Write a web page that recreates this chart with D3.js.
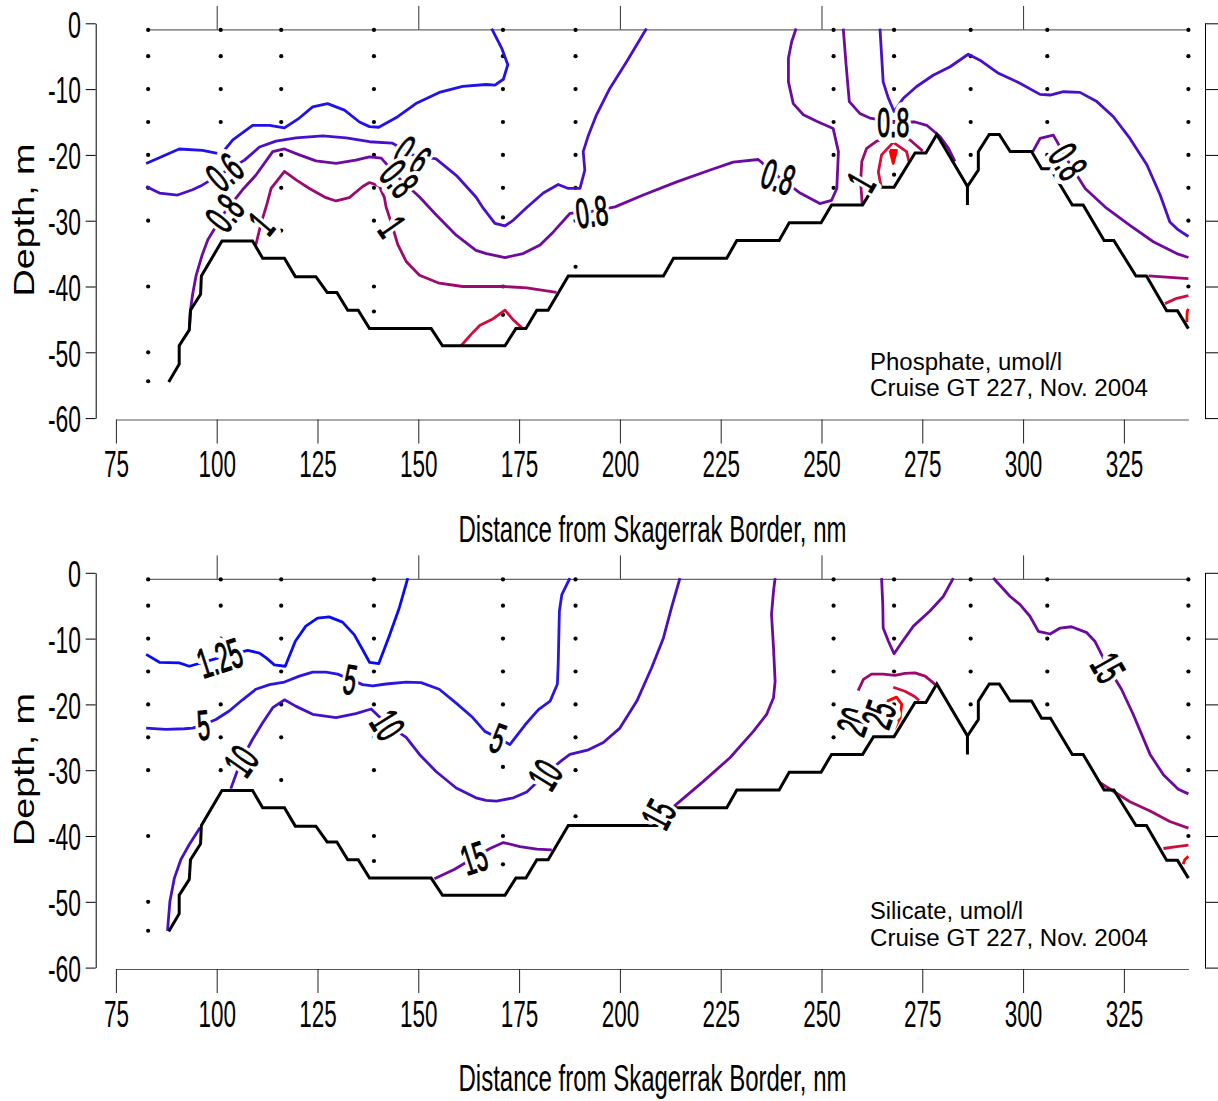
<!DOCTYPE html>
<html>
<head>
<meta charset="utf-8">
<script src="https://cdn.jsdelivr.net/npm/d3@7"></script>
<style>
  body { margin: 0; background: #fff; }
  text { font-family: "Liberation Sans", Arial, sans-serif; }
</style>
</head>
<body>
<script>
// ---- data (distance nm, depth m as positive numbers) ----
var depthTicks = [0, -10, -20, -30, -40, -50, -60];
var distTicks = [75, 100, 125, 150, 175, 200, 225, 250, 275, 300, 325];
var topTicks = [100, 150, 200, 250, 300];

var stationX = [83, 101, 116, 139, 171, 189, 253, 268, 287, 306, 341];
var stationDepths = [
  [1, 5, 10, 15, 20, 25, 30, 40, 50, 54.4],
  [1, 5, 10, 15, 20, 25, 30],
  [1, 5, 10, 15, 20, 25, 31.5],
  [1, 5, 10, 15, 20, 25, 30, 40, 43.8],
  [1, 5, 10, 15, 20, 25, 29.5, 40, 44.3],
  [1, 5, 10, 15, 20, 25, 30, 37],
  [1, 5, 10, 15, 20, 25],
  [1, 5, 10, 15, 20, 23],
  [1, 5, 10, 15, 20],
  [1, 5, 10, 15, 20],
  [1, 5, 10, 15, 20, 25, 30, 40]
];

var bottomX = [88.1, 90.7, 90.7, 93.2, 93.5, 96.0, 96.2, 101.3, 108.9, 111.4, 116.8, 119.5, 124.6, 127.4, 129.8, 132.5, 135.1, 137.9, 153.2, 156.0, 171.5, 174.2, 176.7, 179.4, 182.2, 187.2, 210.8, 213.3, 226.5, 229.0, 239.5, 242.0, 249.9, 252.5, 260.2, 262.9, 268.0, 273.2, 275.9, 278.6, 286.2, 286.2, 286.2, 288.9, 288.9, 291.6, 294.1, 296.8, 302.1, 304.6, 306.8, 312.2, 314.9, 320.1, 322.5, 328.0, 330.6, 335.6, 338.3, 341.0];
var bottomD = [54.5, 51.8, 49.0, 46.6, 43.6, 41.2, 38.4, 33.1, 33.1, 35.7, 35.7, 38.5, 38.5, 40.9, 40.9, 43.6, 43.6, 46.4, 46.4, 49.0, 49.0, 46.4, 46.4, 43.6, 43.6, 38.4, 38.4, 35.7, 35.7, 33.0, 33.0, 30.3, 30.3, 27.6, 27.6, 24.9, 24.9, 19.7, 19.7, 16.9, 24.8, 27.6, 24.8, 22.3, 19.5, 16.9, 16.9, 19.5, 19.5, 22.1, 22.1, 27.6, 27.6, 33.0, 33.0, 38.4, 38.4, 43.7, 43.7, 46.4];

// phosphate contours
var phosLevels = ["0.4", "0.6", "0.8", "1.0", "1.2", "1.4"];
var phosColors = ["#2212ea", "#4a0fcb", "#6c0b9f", "#9c0a70", "#d20c3c", "#ff0000"];

var ph04_a = [[82.5,21.3],[90.7,19.1],[96.5,19.3],[101.1,19.9],[104.0,17.7],[108.9,15.5],[113.1,15.5],[116.8,15.9],[120.5,14.4],[123.8,12.7],[127.5,12.2],[131.7,13.2],[135.4,15.0],[137.9,15.7],[140.2,15.8],[144.9,14.2],[149.4,12.2],[155.2,10.5],[161.0,9.6],[166.8,9.3],[169.0,9.4],[171.1,8.5],[172.2,6.3],[170.7,3.8],[168.2,0.8]];
var ph06_a = [[82.5,24.8],[85.8,25.8],[90.3,26.1],[94.0,25.3],[96.4,24.6],[101.9,22.6],[106.9,20.8],[110.6,18.8],[114.7,17.9],[119.7,17.4],[126.3,17.1],[132.1,17.4],[137.9,18.0],[143.5,18.2],[148.6,20.0],[154.4,20.6],[159.4,23.1],[164.3,26.4],[166.1,28.1],[169.0,30.4],[171.5,30.8],[173.6,29.9],[176.9,28.0],[181.0,25.8],[184.7,24.5],[187.2,25.1],[190.1,25.1],[191.3,22.3],[190.9,19.5],[192.2,17.0],[194.2,13.9],[197.5,9.9],[201.7,5.8],[206.6,0.8]];
var ph06_b = [[264.5,0.8],[264.9,4.8],[265.3,8.9],[266.6,11.4],[268.0,13.4],[270.3,11.4],[273.6,9.6],[277.7,7.9],[281.9,6.6],[286.4,4.7],[289.3,5.6],[293.9,7.6],[299.2,9.1],[304.2,10.8],[306.7,10.9],[310.0,10.4],[314.1,10.5],[318.3,11.9],[322.4,14.2],[326.5,17.5],[330.7,21.5],[334.0,26.1],[336.4,30.2],[338.5,31.4],[341.0,32.4]];
var ph08_a = [[93.2,46.6],[93.5,43.6],[94.0,41.3],[94.9,38.3],[96.4,35.2],[97.8,32.9],[101.9,28.8],[106.4,25.3],[109.7,23.1],[113.9,19.5],[116.8,19.1],[120.5,20.0],[124.6,20.9],[129.6,21.3],[134.5,20.8],[137.9,20.3],[140.8,20.5],[145.3,23.6],[150.3,26.4],[154.4,29.1],[159.4,32.2],[164.3,34.5],[166.9,35.0],[171.5,35.6],[176.0,35.0],[180.2,33.7],[183.5,31.7],[187.6,28.9],[193.0,28.6],[198.8,27.9],[205.8,26.1],[214.1,24.1],[222.4,22.3],[228.1,21.1],[234.3,20.7],[239.3,23.3],[244.7,25.8],[249.6,27.4],[252.5,26.9],[253.8,25.1],[254.2,19.5],[252.9,16.0],[249.2,15.0],[245.5,13.9],[243.0,12.2],[241.8,8.9],[241.8,5.3],[242.6,2.8],[243.7,0.8]];
var ph08_b = [[255.4,0.8],[256.1,6.3],[256.9,11.9],[259.5,13.7],[262.0,14.4],[267.8,15.0],[273.2,15.0],[276.1,15.5],[279.4,17.2],[281.5,19.0],[283.1,21.0]];
var ph08_c = [[302.4,19.5],[304.2,17.5],[307.5,17.0],[311.2,21.0],[315.4,25.1],[320.7,28.1],[326.5,30.7],[332.3,33.2],[338.1,35.0],[341.0,35.6]];
var ph10_a = [[109.7,33.7],[111.0,30.4],[112.4,27.6],[113.5,25.1],[115.4,23.6],[116.8,22.5],[119.7,23.8],[123.0,25.1],[127.1,26.5],[129.6,27.0],[132.9,26.5],[136.2,24.8],[137.9,24.2],[140.3,24.7],[141.6,26.5],[142.0,27.9],[143.6,30.9],[144.9,33.6],[147.0,36.2],[150.3,38.3],[155.2,39.5],[161.0,40.0],[166.8,40.0],[171.1,40.0],[176.9,40.2],[184.3,40.9]];
var ph10_b = [[260.1,27.5],[259.7,24.1],[260.0,21.0],[261.2,19.0],[263.7,17.9],[267.8,17.2],[271.9,17.7],[275.1,19.4]];
var ph10_c = [[331.1,38.4],[336.4,38.6],[341.0,38.8]];
var ph12_a = [[160.6,49.0],[163.2,47.2],[165.3,45.9],[168.6,44.9],[171.5,43.6],[173.6,45.1],[175.9,46.4]];
var ph12_b = [[264.8,24.8],[264.1,22.6],[264.9,20.0],[267.8,18.1],[271.1,19.5],[271.7,21.0]];
var ph12_c = [[335.2,42.6],[338.1,41.8],[341.0,41.4]];
var ph14_a = [[267.0,19.3],[268.6,19.3],[267.8,21.3],[267.0,19.3]];
var ph14_b = [[340.6,45.4],[340.7,43.8],[341.0,43.4]];

var phosLabels = [
  ["0.6", 101.9, 22.6, -40], ["0.6", 148.6, 20.0, 35],
  ["0.8", 101.9, 28.8, -52], ["0.8", 145.3, 23.6, 50],
  ["1", 111.0, 30.4, -50], ["1", 143.6, 30.9, 55],
  ["0.8", 193.0, 28.6, -8], ["0.8", 239.3, 23.3, 18],
  ["0.8", 267.8, 15.0, 0], ["1", 259.7, 24.1, -60],
  ["0.8", 311.2, 21.0, 58]
];

// silicate contours
var silLevels = ["1.25", "5", "10", "15", "20", "25", "30"];
var silColors = ["#0a0cf4", "#2a16e0", "#4810c4", "#6c0aa0", "#9c0a70", "#d20c3c", "#ff0000"];

var si125_a = [[82.5,12.4],[85.8,13.6],[90.7,13.7],[93.2,14.2],[100.7,12.9],[107.7,11.8],[110.6,12.2],[112.2,12.9],[114.3,14.0],[117.0,14.2],[119.5,10.4],[122.1,8.1],[125.0,6.9],[127.9,6.7],[131.2,7.5],[134.1,9.4],[136.2,11.7],[137.9,13.6],[140.2,13.8],[142.8,9.6],[145.3,5.3],[147.4,0.8]];
var si5_a = [[82.5,23.6],[87.4,23.8],[92.0,23.7],[94.0,23.6],[96.7,23.1],[99.8,22.3],[103.1,21.0],[106.4,19.3],[109.7,17.7],[113.1,17.0],[116.8,16.6],[120.5,15.7],[123.8,15.1],[127.1,15.1],[130.0,15.4],[133.1,16.2],[136.2,17.0],[138.7,17.2],[142.0,16.9],[147.0,16.6],[150.7,16.7],[155.2,17.7],[159.4,19.8],[163.5,22.0],[166.5,24.1],[169.8,25.1],[172.7,26.1],[176.5,23.1],[179.8,20.8],[182.7,19.5],[184.5,16.9],[184.7,13.9],[185.0,5.8],[185.6,3.3],[187.6,0.8]];
var si10_a = [[87.8,54.4],[88.4,49.9],[89.5,46.4],[91.1,43.6],[93.2,41.3],[95.9,38.7]];
var si10_b = [[103.5,32.8],[106.0,28.6],[108.9,25.3],[111.4,22.8],[113.9,20.5],[116.8,19.3],[119.7,20.3],[123.8,21.5],[129.6,22.0],[134.5,21.4],[138.3,20.7],[142.4,23.1],[147.0,25.0],[150.3,27.6],[154.4,30.2],[159.4,32.7],[164.3,34.2],[166.8,34.6],[169.4,34.7],[173.6,34.2],[176.9,33.3],[181.4,30.7],[185.6,28.5],[187.6,27.6],[192.2,26.9],[195.9,25.8],[200.0,23.6],[204.2,19.5],[207.9,14.4],[210.8,9.9],[212.8,5.3],[214.9,0.8]];
var si15_a = [[154.0,46.5],[158.9,45.1],[163.8,43.3],[167.8,41.9],[171.1,41.0],[175.2,41.6],[179.4,42.0],[183.1,42.1]];
var si15_b = [[213.4,35.5],[220.7,31.7],[227.3,28.1],[233.1,24.1],[236.4,21.5],[238.1,19.0],[238.5,16.5],[238.1,11.4],[237.6,6.3],[238.1,2.8],[238.5,0.8]];
var si15_c = [[264.9,0.8],[265.2,4.8],[265.3,8.4],[266.6,10.4],[268.0,12.3],[269.9,10.6],[272.8,8.1],[276.9,5.8],[280.2,3.6],[282.7,0.8]];
var si15_d = [[292.6,0.8],[296.8,3.6],[299.2,4.8],[301.7,6.6],[303.8,8.9],[306.7,9.3],[309.2,8.4],[312.0,8.2],[315.8,9.1],[317.8,10.4],[321.1,14.4],[324.4,17.7],[327.3,21.5],[331.5,27.6],[334.8,30.7],[338.5,32.9],[341.0,33.6]];
var si20_a = [[259.1,17.9],[260.4,16.2],[262.4,15.4],[265.3,15.4],[268.2,15.6],[270.7,15.3],[273.2,15.2],[275.7,15.7],[277.3,16.5],[278.2,17.0]];
var si20_b = [[319.1,31.9],[322.4,33.2],[326.5,34.8],[331.5,36.2],[336.4,37.8],[341.0,38.8]];
var si25_a = [[267.8,17.4],[270.7,18.0],[273.1,18.8],[274.2,19.4]];
var si25_b = [[334.8,41.9],[338.1,41.6],[341.0,41.4]];
var si30_a = [[266.3,19.5],[268.6,18.9],[269.9,20.0],[269.5,22.0],[268.2,23.6],[266.8,22.3],[266.3,19.5]];
var si30_b = [[339.7,44.3],[340.1,43.6],[341.0,43.1]];

var silLabels = [
  ["1.25", 100.7, 12.9, -18], ["5", 96.7, 23.1, -5], ["5", 133.1, 16.2, 10],
  ["10", 106.0, 28.6, -55], ["10", 142.4, 23.1, 58], ["15", 163.8, 43.3, -18],
  ["5", 169.8, 25.1, 20], ["10", 181.4, 30.7, -58], ["15", 209.5, 36.7, -62],
  ["15", 321.1, 14.4, 60], ["20", 257.9, 22.6, -70], ["25", 264.1, 21.5, -70]
];

var phosContours = [
  [ph04_a, 0], [ph06_a, 1], [ph06_b, 1], [ph08_a, 2], [ph08_b, 2], [ph08_c, 2],
  [ph10_a, 3], [ph10_b, 3], [ph10_c, 3], [ph12_a, 4], [ph12_b, 4], [ph12_c, 4],
  [ph14_a, 5], [ph14_b, 5]
];
var silContours = [
  [si125_a, 0], [si5_a, 1], [si10_a, 2], [si10_b, 2], [si15_a, 3], [si15_b, 3],
  [si15_c, 3], [si15_d, 3], [si20_a, 4], [si20_b, 4], [si25_a, 5], [si25_b, 5],
  [si30_a, 6], [si30_b, 6]
];

// ---- drawing ----
var width = 1218, height = 1101;
var svg = d3.select('body').append('svg')
    .attr('width', width)
    .attr('height', height);

var x = d3.scaleLinear().domain([75, 341]).range([115.9, 1188.4]);
var y = d3.scaleLinear().domain([0, -60]).range([23.3, 418.1]);

var line = d3.line()
    .x(function(d){ return x(d[0]); })
    .y(function(d){ return y(-d[1]); });

function labelWidth(s) {
  return s.replace('.', '').length * 12.5 + (s.indexOf('.') >= 0 ? 7 : 0);
}

function drawPanel(offset, contours, colors, labels, note1, note2, w1) {
  var g = svg.append('g').attr('transform', 'translate(0,' + offset + ')');

  // left depth axis
  var yAxis = d3.axisLeft(y).tickValues(depthTicks).tickSize(10).tickSizeOuter(0)
      .tickFormat(function(d){ return String(d); });
  var ya = g.append('g').attr('transform', 'translate(95.7,0)').call(yAxis);
  ya.selectAll('text')
      .attr('x', -14.7).attr('dy', null).attr('y', 13.7)
      .attr('font-size', '37.7px').attr('fill', '#000')
      .attr('lengthAdjust', 'spacingAndGlyphs')
      .attr('textLength', function(d){ return d === 0 ? 13 : 33; });

  // right axis (no labels)
  var rAxis = d3.axisRight(y).tickValues(depthTicks).tickSize(20).tickSizeOuter(0).tickFormat('');
  g.append('g').attr('transform', 'translate(1205,0)').call(rAxis);

  // bottom distance axis
  var xAxis = d3.axisBottom(x).tickValues(distTicks).tickSize(24).tickSizeOuter(0);
  var xa = g.append('g').attr('transform', 'translate(0,419.5)').call(xAxis);
  xa.select('.domain').attr('stroke', '#555');
  xa.selectAll('.tick line').attr('stroke', '#222');
  xa.selectAll('text')
      .attr('dy', null).attr('y', 57.5)
      .attr('font-size', '37.7px').attr('fill', '#000')
      .attr('lengthAdjust', 'spacingAndGlyphs')
      .attr('textLength', function(d){ return String(d).length * 12.5; });

  // top ticks on the surface line
  var tAxis = d3.axisTop(x).tickValues(topTicks).tickSize(24).tickFormat('');
  var ta = g.append('g').attr('transform', 'translate(0,' + y(-1) + ')').call(tAxis);
  ta.select('.domain').remove();
  ta.selectAll('.tick line').attr('stroke', '#333');

  // surface line
  g.append('line')
      .attr('x1', x(stationX[0])).attr('x2', x(stationX[stationX.length - 1]))
      .attr('y1', y(-1)).attr('y2', y(-1))
      .attr('stroke', '#666').attr('stroke-width', 1.3);

  // station sample dots
  stationX.forEach(function(sx, i){
    g.selectAll(null).data(stationDepths[i]).enter().append('circle')
        .attr('cx', x(sx))
        .attr('cy', function(d){ return y(-d); })
        .attr('r', 2.1)
        .attr('fill', '#000');
  });

  // contours
  contours.forEach(function(c){
    var p = g.append('path')
        .attr('d', line(c[0]))
        .attr('fill', 'none')
        .attr('stroke', colors[c[1]])
        .attr('stroke-width', 2.8)
        .attr('stroke-linejoin', 'round');
    if (c[0] === ph14_a) p.attr('fill', colors[c[1]]);
  });

  // sea bottom
  var bottom = bottomX.map(function(v, i){ return [v, bottomD[i]]; });
  g.append('path')
      .attr('d', line(bottom))
      .attr('fill', 'none')
      .attr('stroke', '#000')
      .attr('stroke-width', 3)
      .attr('stroke-linejoin', 'miter');

  // contour labels: white gap behind, then the figure
  labels.forEach(function(l){
    var tr = 'translate(' + x(l[1]) + ',' + y(-l[2]) + ') rotate(' + l[3] + ')';
    [['#fff', 12], ['#000', 1.1]].forEach(function(s){
      g.append('text')
          .attr('transform', tr)
          .attr('text-anchor', 'middle')
          .attr('y', 15)
          .attr('font-size', '42px')
          .attr('lengthAdjust', 'spacingAndGlyphs')
          .attr('textLength', labelWidth(l[0]))
          .attr('fill', s[0] === '#fff' ? 'none' : '#000')
          .attr('stroke', s[0])
          .attr('stroke-width', s[1])
          .attr('stroke-linejoin', 'round')
          .text(l[0]);
    });
  });

  // y label
  g.append('text')
      .attr('transform', 'translate(34,220) rotate(-90)')
      .attr('text-anchor', 'middle')
      .attr('font-size', '30px')
      .attr('textLength', 153)
      .attr('lengthAdjust', 'spacingAndGlyphs')
      .text('Depth, m');

  // x label
  g.append('text')
      .attr('x', 652.5).attr('y', 541.7)
      .attr('text-anchor', 'middle')
      .attr('font-size', '37px')
      .attr('textLength', 388)
      .attr('lengthAdjust', 'spacingAndGlyphs')
      .text('Distance from Skagerrak Border, nm');

  // note
  g.append('text')
      .attr('x', 870).attr('y', 369.5)
      .attr('font-size', '23px')
      .attr('textLength', w1)
      .attr('lengthAdjust', 'spacingAndGlyphs')
      .text(note1);
  g.append('text')
      .attr('x', 870).attr('y', 396)
      .attr('font-size', '23px')
      .attr('textLength', 278)
      .attr('lengthAdjust', 'spacingAndGlyphs')
      .text(note2);
}

drawPanel(0, phosContours, phosColors, phosLabels, 'Phosphate, umol/l', 'Cruise GT 227, Nov. 2004', 192);
drawPanel(549.5, silContours, silColors, silLabels, 'Silicate, umol/l', 'Cruise GT 227, Nov. 2004', 153);
</script>
</body>
</html>
